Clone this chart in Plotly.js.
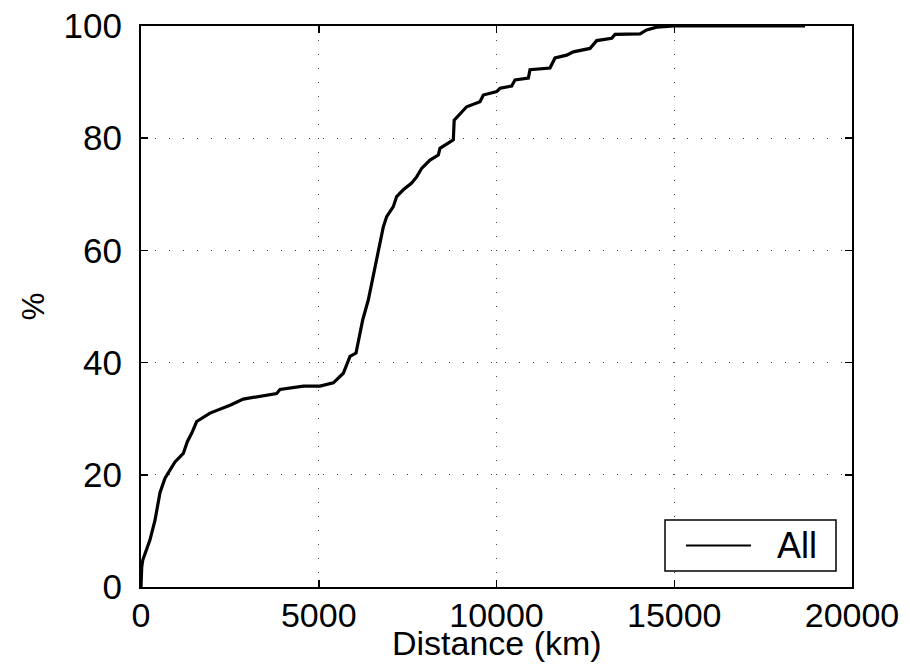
<!DOCTYPE html>
<html>
<head>
<meta charset="utf-8">
<script src="https://cdn.plot.ly/plotly-3.0.1.min.js"></script>
<style>html,body{margin:0;padding:0;background:#fff;}#chart{width:910px;height:666px;}</style>
</head>
<body>
<div id="chart"></div>
<script>
// Cumulative distribution of distance (km) -> percent
const distanceKm = [0, 20, 50, 150, 253, 394, 534, 675, 797, 956,
  1190, 1303, 1425, 1566, 1941, 2504, 2878, 3441, 3816, 3910,
  4566, 5035, 5410, 5691, 5879, 6048, 6160, 6236, 6395, 6489,
  6630, 6723, 6816, 6910, 7097, 7191, 7378, 7613, 7754, 7894,
  8129, 8363, 8410, 8785, 8810, 9161, 9536, 9629, 10005, 10099,
  10427, 10521, 10896, 10943, 11505, 11646, 11974, 12162, 12630, 12818,
  13240, 13333, 14036, 14224, 14505, 15000, 18680];
const percentAll = [0, 3.5, 4.8, 6.5, 8.4, 11.9, 16.8, 19.4, 20.6, 22.3,
  23.8, 25.9, 27.4, 29.5, 31.0, 32.4, 33.5, 34.1, 34.5, 35.2,
  35.8, 35.8, 36.4, 38.1, 41.1, 41.7, 45.2, 47.6, 51.2, 54.1,
  58.9, 61.9, 64.2, 66.0, 67.8, 69.6, 70.8, 72.0, 73.1, 74.6,
  76.1, 77.0, 78.2, 79.7, 83.2, 85.6, 86.5, 87.7, 88.3, 88.9,
  89.3, 90.4, 90.7, 92.2, 92.5, 94.3, 94.8, 95.4, 96.0, 97.4,
  97.8, 98.5, 98.6, 99.3, 99.8, 100, 100];
const seriesName = "All";
const xTicks = [0, 5000, 10000, 15000, 20000];
const yTicks = [0, 20, 40, 60, 80, 100];
const xTitle = "Distance (km)";
const yTitle = "%";

const FONT = "Liberation Sans, Arial, Helvetica, sans-serif";

const trace = {
  x: distanceKm, y: percentAll, name: seriesName,
  type: "scatter", mode: "lines",
  line: {color: "#000", width: 3.2},
  showlegend: false
};

const axisCommon = {
  showline: true, linecolor: "#000", linewidth: 2, mirror: "ticks",
  ticks: "inside", ticklen: 7, tickwidth: 1.5, tickcolor: "#000",
  showgrid: true, gridcolor: "#444", gridwidth: 1, griddash: "1px,13px",
  zeroline: false,
  automargin: false
};

// Legend box drawn in paper coordinates (MATLAB-style legend)
const lg = {x0: 0.737, x1: 0.9775, y0: 0.0285, y1: 0.1194, ly: 0.074, lx0: 0.7665, lx1: 0.8579, tx: 0.8917};

const layout = {
  width: 910, height: 666,
  margin: {l: 141, r: 58, t: 26, b: 79},
  paper_bgcolor: "#fff", plot_bgcolor: "#fff",
  showlegend: false,
  xaxis: Object.assign({}, axisCommon, {
    range: [0, 20000], tickvals: xTicks, ticktext: xTicks.map(String),
    tickfont: {family: FONT, size: 34, color: "#000"},
    ticklabelstandoff: -3
  }),
  yaxis: Object.assign({}, axisCommon, {
    range: [0, 100], tickvals: yTicks, ticktext: yTicks.map(String),
    tickfont: {family: FONT, size: 35, color: "#000"},
    ticklabelstandoff: 10,
    title: {text: yTitle, font: {family: FONT, size: 31, color: "#000"}, standoff: 10}
  }),
  shapes: [
    {type: "rect", xref: "paper", yref: "paper", x0: lg.x0, x1: lg.x1, y0: lg.y0, y1: lg.y1,
     line: {color: "#000", width: 1.5}, fillcolor: "#fff", layer: "above"},
    {type: "line", xref: "paper", yref: "paper", x0: lg.lx0, x1: lg.lx1, y0: lg.ly, y1: lg.ly,
     line: {color: "#000", width: 2.2}, layer: "above"}
  ],
  annotations: [
    {text: xTitle, xref: "paper", yref: "paper", x: 0.5, y: -0.1, xanchor: "center", yanchor: "middle",
     showarrow: false, font: {family: FONT, size: 34, color: "#000"}},
    {text: seriesName, xref: "paper", yref: "paper", x: lg.tx, y: lg.ly, xanchor: "left", yanchor: "middle",
     showarrow: false, font: {family: FONT, size: 36, color: "#000"}}
  ]
};

Plotly.newPlot("chart", [trace], layout, {displayModeBar: false, staticPlot: true});
</script>
</body>
</html>
